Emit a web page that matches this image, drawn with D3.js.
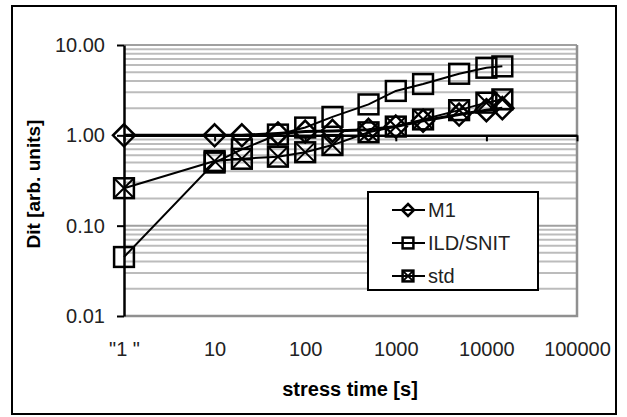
<!DOCTYPE html>
<html>
<head>
<meta charset="utf-8">
<script src="https://cdn.jsdelivr.net/npm/d3@7"></script>
<style>
  body { margin: 0; background: #fff; }
  text { font-family: "Liberation Sans", Arial, sans-serif; }
</style>
</head>
<body>
<div id="chart"></div>
<script>
// stress times (first point is t=0 drawn at "1")
var times = [1, 10, 20, 50, 100, 200, 500, 1000, 2000, 5000, 10000, 15000];
var m1 = [1.0, 1.0, 1.0, 1.05, 1.1, 1.12, 1.15, 1.25, 1.45, 1.7, 1.9, 2.0];
var ild = [0.045, 0.5, 0.7, 1.02, 1.22, 1.6, 2.2, 3.1, 3.7, 4.8, 5.6, 5.8];
var std = [0.26, 0.52, 0.55, 0.58, 0.65, 0.78, 1.08, 1.25, 1.5, 1.9, 2.3, 2.5];
var seriesNames = ["M1", "ILD/SNIT", "std"];
var xTicks = [1, 10, 100, 1000, 10000, 100000];
var xTickLabels = ["\"1 \"", "10", "100", "1000", "10000", "100000"];
var yTicks = [0.01, 0.1, 1, 10];

var svgWidth = 627, svgHeight = 417;

var svg = d3.select("#chart").append("svg")
    .attr("width", svgWidth)
    .attr("height", svgHeight);

// outer frame
svg.append("rect")
    .attr("x", 12).attr("y", 6)
    .attr("width", 604).attr("height", 408)
    .attr("fill", "#fff")
    .attr("stroke", "#000")
    .attr("stroke-width", 2);

var x = d3.scaleLog().domain([1, 100000]).range([124, 577]);
var y = d3.scaleLog().domain([0.01, 10]).range([316, 45]);

// minor + major horizontal grid
var gridVals = [];
[0.01, 0.1, 1].forEach(function (d) {
    for (var k = 2; k <= 9; k++) gridVals.push(d * k);
});
svg.append("g").selectAll("line")
    .data(gridVals)
    .enter()
    .append("line")
    .attr("x1", x(1)).attr("x2", x(100000))
    .attr("y1", d => y(d)).attr("y2", d => y(d))
    .attr("stroke", "#bcbcbc")
    .attr("stroke-width", 2);

svg.append("g").selectAll("line")
    .data([0.1, 10])
    .enter()
    .append("line")
    .attr("x1", x(1)).attr("x2", x(100000))
    .attr("y1", d => y(d)).attr("y2", d => y(d))
    .attr("stroke", "#a0a0a0")
    .attr("stroke-width", 2);

// plot area border (right / bottom)
svg.append("path")
    .attr("d", `M${x(100000)},${y(10)}V${y(0.01)}H${x(1)}`)
    .attr("fill", "none")
    .attr("stroke", "#909090")
    .attr("stroke-width", 2.5);

// x axis crosses at 1.00
var xAxis = svg.append("g")
    .attr("transform", `translate(0, ${y(1)})`)
    .call(d3.axisBottom(x).tickValues(xTicks).tickFormat("").tickSize(6).tickSizeOuter(0));
xAxis.select(".domain").attr("stroke-width", 2.5);
xAxis.selectAll(".tick line").attr("stroke-width", 2);

// x tick labels under the plot
var xLabels = svg.append("g")
    .attr("transform", `translate(0, ${y(0.01)})`)
    .call(d3.axisBottom(x).tickValues(xTicks)
        .tickFormat((d, i) => xTickLabels[i]).tickSize(0).tickPadding(26));
xLabels.select(".domain").remove();
xLabels.selectAll("text")
    .attr("font-size", "20px")
    .attr("font-family", "Liberation Sans, Arial, sans-serif")
    .attr("fill", "#222");

// y axis
var yAxis = svg.append("g")
    .attr("transform", `translate(${x(1)}, 0)`)
    .call(d3.axisLeft(y).tickValues(yTicks).tickFormat(d3.format(".2f")).tickSize(7).tickSizeOuter(0).tickPadding(12));
yAxis.select(".domain").attr("stroke-width", 2.5);
yAxis.selectAll(".tick line").attr("stroke-width", 2);
yAxis.selectAll("text")
    .attr("font-size", "20px")
    .attr("font-family", "Liberation Sans, Arial, sans-serif")
    .attr("fill", "#222");

// axis titles
svg.append("text")
    .attr("x", 350).attr("y", 396)
    .attr("text-anchor", "middle")
    .attr("font-size", "20px")
    .attr("font-weight", "bold")
    .text("stress time [s]");

svg.append("text")
    .attr("transform", "translate(40, 184) rotate(-90)")
    .attr("text-anchor", "middle")
    .attr("font-size", "19px")
    .attr("font-weight", "bold")
    .text("Dit [arb. units]");

// markers
function drawMarker(g, type, s) {
    if (type === "diamond") {
        g.append("path")
            .attr("d", `M0,${-s}L${s},0L0,${s}L${-s},0Z`)
            .attr("fill", "none").attr("stroke", "#000").attr("stroke-width", 2.5);
    } else {
        var h = s * 0.9;
        g.append("rect")
            .attr("x", -h).attr("y", -h).attr("width", 2 * h).attr("height", 2 * h)
            .attr("fill", "none").attr("stroke", "#000").attr("stroke-width", 2.5);
        if (type === "xsquare") {
            g.append("path")
                .attr("d", `M${-h},${-h}L${h},${h}M${h},${-h}L${-h},${h}`)
                .attr("stroke", "#000").attr("stroke-width", 2);
        }
    }
}

var series = [
    { name: seriesNames[0], values: m1, type: "diamond", width: 3 },
    { name: seriesNames[1], values: ild, type: "square", width: 2 },
    { name: seriesNames[2], values: std, type: "xsquare", width: 2 }
];

var line = d3.line()
    .x(d => x(d[0]))
    .y(d => y(d[1]));

series.forEach(function (s) {
    var pts = times.map((t, i) => [t, s.values[i]]);
    svg.append("path")
        .datum(pts)
        .attr("d", line)
        .attr("fill", "none")
        .attr("stroke", "#000")
        .attr("stroke-width", s.width);

    svg.append("g").selectAll("g")
        .data(pts)
        .enter()
        .append("g")
        .attr("transform", d => `translate(${x(d[0])}, ${y(d[1])})`)
        .each(function () { drawMarker(d3.select(this), s.type, 11); });
});

// legend
var legend = svg.append("g");
legend.append("rect")
    .attr("x", 368).attr("y", 192)
    .attr("width", 170).attr("height", 98)
    .attr("fill", "#fff")
    .attr("stroke", "#000")
    .attr("stroke-width", 2);

var legendY = d3.scalePoint().domain(seriesNames).range([210, 276]);

series.forEach(function (s) {
    var ly = legendY(s.name);
    legend.append("line")
        .attr("x1", 392).attr("x2", 425)
        .attr("y1", ly).attr("y2", ly)
        .attr("stroke", "#000").attr("stroke-width", 2);
    var mg = legend.append("g").attr("transform", `translate(408, ${ly})`);
    drawMarker(mg, s.type, 6);
    legend.append("text")
        .attr("x", 428).attr("y", ly + 7)
        .attr("font-size", "20px")
        .attr("fill", "#222")
        .text(s.name);
});
</script>
</body>
</html>
